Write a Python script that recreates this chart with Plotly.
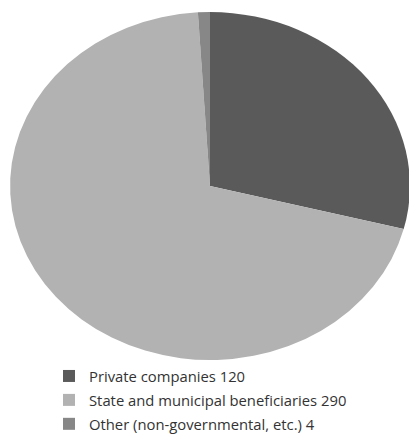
import plotly.graph_objects as go

categories = ["Private companies", "State and municipal beneficiaries", "Other (non-governmental, etc.)"]
values = [120, 290, 4]
colors = ["#5a5a5a", "#b2b2b2", "#878787"]

legend_labels = [f'<span style="font-size:14.8px">{c} {v}</span>' for c, v in zip(categories, values)]

W, H = 409, 434
fig = go.Figure(go.Pie(
    labels=legend_labels,
    values=values,
    sort=False,
    direction="clockwise",
    rotation=0,
    marker=dict(colors=colors, line=dict(width=0)),
    textinfo="none",
    hoverinfo="label+value",
    domain=dict(x=[36 / W, 384 / W], y=[1 - 360 / H, 1 - 12 / H]),
))

fig.update_layout(
    width=W, height=H,
    margin=dict(l=0, r=0, t=0, b=0, autoexpand=False),
    paper_bgcolor="white",
    font=dict(family="Open Sans, Liberation Sans, sans-serif", color="#333333"),
    showlegend=True,
    legend=dict(
        x=49 / W, xanchor="left",
        y=1 - 359 / H, yanchor="top",
        orientation="v",
        font=dict(size=16.1, color="#333333"),
        bgcolor="rgba(0,0,0,0)",
    ),
)

post = """
var gd = document.getElementById('{plot_id}');
document.body.style.margin = '0';
function stretch() {
  var cd = gd.calcdata && gd.calcdata[0] && gd.calcdata[0][0];
  if (!cd) return;
  var cx = cd.cx, cy = cd.cy;
  gd.querySelectorAll('.pielayer .trace').forEach(function (g) {
    g.setAttribute('transform', 'translate(' + cx + ',' + cy + ') scale(1.149,1) translate(' + (-cx) + ',' + (-cy) + ')');
  });
}
stretch();
gd.on('plotly_afterplot', stretch);
"""

fig.write_html("out.html", post_script=post, config={"displayModeBar": False})
